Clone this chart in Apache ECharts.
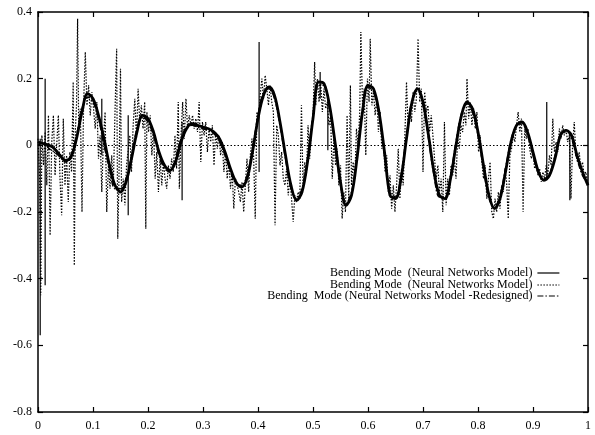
<!DOCTYPE html>
<html>
<head>
<meta charset="utf-8">
<script src="https://cdn.jsdelivr.net/npm/echarts@6/dist/echarts.min.js"></script>
<style>
html, body { margin: 0; padding: 0; background: #fff; }
#chart { width: 595px; height: 435px; }
</style>
</head>
<body>
<div id="chart"></div>
<script>
// legend names (the first two are identical in the picture, trailing space keeps them apart)
const NAME_NN = 'Bending Mode  (Neural Networks Model)'
const NAME_NN_DOT = 'Bending Mode  (Neural Networks Model) '
const NAME_REDESIGN = 'Bending  Mode (Neural Networks Model -Redesigned)'

// x grid for the two smooth curves: 0, 0.01, ... 1
const xGrid = Array.from({ length: 101 }, (_, i) => i / 100)

// solid curve, read every 0.01
const solidVals = [
  0.01, 0.005, 0.0, -0.01, -0.03, -0.045, -0.035, 0.02, 0.10, 0.155,
  0.14, 0.09, 0.02, -0.06, -0.12, -0.14, -0.11, -0.04, 0.04, 0.09,
  0.08, 0.04, -0.02, -0.06, -0.075, -0.05, 0.01, 0.05, 0.065, 0.06,
  0.055, 0.05, 0.04, 0.02, -0.02, -0.07, -0.11, -0.125, -0.10, -0.02,
  0.08, 0.15, 0.175, 0.15, 0.07, -0.03, -0.12, -0.165, -0.14, -0.05,
  0.08, 0.19, 0.185, 0.12, 0.01, -0.11, -0.18, -0.15, -0.04, 0.10,
  0.18, 0.17, 0.10, -0.02, -0.15, -0.16, -0.10, 0.02, 0.13, 0.17,
  0.13, 0.03, -0.08, -0.15, -0.16, -0.10, 0.00, 0.09, 0.13, 0.11,
  0.04, -0.06, -0.15, -0.19, -0.16, -0.08, 0.01, 0.06, 0.07, 0.04,
  -0.02, -0.08, -0.105, -0.09, -0.04, 0.03, 0.045, 0.03, -0.03, -0.08,
  -0.12
]

// dash-dot curve (redesigned model), read every 0.01
const dashVals = [
  0.0, 0.01, -0.01, -0.02, -0.035, -0.05, -0.03, 0.03, 0.11, 0.145,
  0.13, 0.08, 0.0, -0.07, -0.13, -0.13, -0.10, -0.03, 0.05, 0.085,
  0.07, 0.03, -0.03, -0.07, -0.08, -0.04, 0.02, 0.055, 0.06, 0.055,
  0.05, 0.045, 0.035, 0.01, -0.03, -0.08, -0.115, -0.12, -0.09, -0.01,
  0.09, 0.16, 0.17, 0.14, 0.06, -0.04, -0.13, -0.16, -0.13, -0.04,
  0.09, 0.18, 0.18, 0.11, 0.0, -0.12, -0.175, -0.14, -0.03, 0.11,
  0.175, 0.16, 0.09, -0.03, -0.14, -0.155, -0.09, 0.03, 0.135, 0.165,
  0.12, 0.02, -0.09, -0.155, -0.155, -0.09, 0.01, 0.095, 0.125, 0.10,
  0.03, -0.07, -0.16, -0.185, -0.15, -0.07, 0.015, 0.06, 0.065, 0.03,
  -0.03, -0.085, -0.10, -0.085, -0.03, 0.035, 0.045, 0.02, -0.04, -0.09,
  -0.115
]

// solid vertical glitches in the first model: x, from, to
const spikeX = [0.004, 0.013, 0.116, 0.164, 0.262, 0.402, 0.513, 0.527, 0.925, 0.967]
const spikeFrom = [0.02, 0.20, 0.14, 0.09, 0.07, 0.31, 0.22, 0.14, 0.13, 0.035]
const spikeTo = [-0.57, -0.42, -0.03, -0.21, -0.165, -0.08, 0.14, -0.015, -0.105, -0.165]

// dotted, noisy trace [x, y]
const dottedPts = [
  [0.000, 0.02], [0.003, -0.10], [0.005, -0.45], [0.007, 0.03], [0.010, -0.06], [0.013, 0.04],
  [0.016, -0.12], [0.019, 0.09], [0.022, -0.27], [0.025, 0.01], [0.028, 0.09], [0.031, -0.09],
  [0.034, 0.00], [0.037, 0.09], [0.040, -0.10], [0.043, -0.21], [0.046, 0.08], [0.049, -0.12],
  [0.052, -0.03], [0.055, -0.17], [0.058, -0.02], [0.061, -0.08], [0.064, 0.19], [0.066, -0.36],
  [0.068, 0.05], [0.070, 0.12], [0.072, 0.38], [0.074, 0.06], [0.077, 0.11], [0.080, -0.20],
  [0.083, 0.13], [0.086, 0.28], [0.089, 0.12], [0.092, 0.18], [0.095, 0.09], [0.098, 0.16],
  [0.101, 0.11], [0.104, 0.05], [0.107, 0.13], [0.110, -0.04], [0.113, 0.03], [0.116, -0.14],
  [0.119, 0.02], [0.122, 0.10], [0.125, -0.20], [0.128, -0.06], [0.131, -0.13], [0.134, -0.03],
  [0.137, -0.12], [0.140, 0.10], [0.143, 0.29], [0.145, -0.28], [0.147, -0.12], [0.150, 0.23],
  [0.152, -0.17], [0.155, -0.10], [0.158, -0.18], [0.161, -0.06], [0.167, 0.03], [0.170, -0.08],
  [0.173, 0.06], [0.176, 0.14], [0.179, 0.02], [0.182, 0.17], [0.185, 0.07], [0.188, 0.12],
  [0.191, 0.05], [0.194, 0.13], [0.196, -0.25], [0.198, 0.10], [0.201, 0.04], [0.204, 0.09],
  [0.207, -0.03], [0.210, 0.05], [0.213, -0.10], [0.216, -0.02], [0.219, -0.14], [0.222, -0.04],
  [0.225, -0.12], [0.228, -0.05], [0.231, -0.10], [0.234, -0.13], [0.237, -0.06], [0.240, -0.10],
  [0.243, -0.04], [0.246, -0.08], [0.249, 0.03], [0.252, -0.07], [0.255, 0.13], [0.257, -0.13],
  [0.260, 0.03], [0.263, 0.13], [0.266, 0.02], [0.269, 0.14], [0.272, 0.05], [0.275, 0.09],
  [0.278, 0.06], [0.281, 0.09], [0.284, 0.05], [0.287, 0.08], [0.290, 0.04], [0.293, 0.13],
  [0.296, -0.05], [0.299, 0.07], [0.302, 0.03], [0.305, 0.07], [0.308, -0.02], [0.311, 0.05],
  [0.314, 0.01], [0.317, 0.06], [0.320, -0.06], [0.323, 0.04], [0.326, -0.01], [0.329, 0.03],
  [0.332, -0.03], [0.335, 0.01], [0.338, -0.08], [0.341, -0.02], [0.344, -0.10], [0.347, -0.05],
  [0.350, -0.13], [0.353, -0.08], [0.356, -0.19], [0.359, -0.10], [0.362, -0.12], [0.365, -0.14],
  [0.368, -0.17], [0.371, -0.11], [0.374, -0.20], [0.377, -0.12], [0.380, -0.04], [0.383, -0.14],
  [0.386, -0.03], [0.389, 0.02], [0.392, -0.03], [0.395, -0.22], [0.398, 0.10], [0.401, 0.08],
  [0.404, 0.15], [0.407, 0.20], [0.410, 0.14], [0.413, 0.21], [0.416, 0.17], [0.419, 0.12],
  [0.422, 0.18], [0.425, 0.13], [0.428, 0.10], [0.431, -0.24], [0.434, 0.06], [0.437, 0.03],
  [0.440, -0.06], [0.443, -0.02], [0.446, -0.10], [0.449, -0.12], [0.452, -0.07], [0.455, -0.15],
  [0.458, -0.10], [0.461, -0.16], [0.464, -0.23], [0.467, -0.15], [0.470, -0.17], [0.473, -0.14],
  [0.476, -0.16], [0.479, 0.12], [0.482, -0.13], [0.485, -0.05], [0.488, -0.09], [0.491, 0.06],
  [0.494, -0.04], [0.497, 0.04], [0.500, 0.09], [0.503, 0.25], [0.505, 0.12], [0.508, 0.20],
  [0.511, 0.13], [0.514, 0.19], [0.517, 0.10], [0.520, 0.17], [0.523, 0.11], [0.526, 0.13],
  [0.529, 0.06], [0.532, 0.09], [0.535, -0.10], [0.538, 0.02], [0.541, -0.06], [0.544, -0.01],
  [0.547, -0.12], [0.550, -0.06], [0.553, -0.22], [0.556, -0.14], [0.559, -0.20], [0.562, 0.09],
  [0.565, -0.17], [0.568, 0.18], [0.570, -0.12], [0.573, -0.05], [0.576, -0.10], [0.579, 0.05],
  [0.582, 0.00], [0.585, 0.10], [0.587, 0.34], [0.590, 0.12], [0.593, 0.17], [0.596, -0.03],
  [0.599, 0.20], [0.602, 0.13], [0.604, 0.32], [0.607, 0.12], [0.610, 0.16], [0.613, 0.09],
  [0.616, 0.14], [0.619, 0.04], [0.622, 0.10], [0.625, -0.01], [0.628, 0.02], [0.631, -0.08],
  [0.634, -0.03], [0.637, -0.14], [0.640, -0.09], [0.643, -0.19], [0.646, -0.12], [0.649, -0.20],
  [0.652, -0.12], [0.655, -0.01], [0.658, -0.16], [0.661, -0.07], [0.664, -0.12], [0.667, 0.03],
  [0.670, 0.19], [0.673, 0.05], [0.676, 0.11], [0.679, 0.07], [0.682, 0.16], [0.685, 0.10],
  [0.688, 0.14], [0.691, 0.32], [0.694, 0.13], [0.697, 0.17], [0.700, -0.08], [0.703, 0.16],
  [0.706, 0.10], [0.709, 0.12], [0.712, 0.04], [0.715, 0.09], [0.718, 0.03], [0.721, -0.04],
  [0.724, -0.10], [0.727, -0.06], [0.730, -0.14], [0.733, -0.10], [0.736, -0.20], [0.739, 0.07],
  [0.742, -0.18], [0.745, -0.10], [0.748, -0.15], [0.751, -0.06], [0.754, -0.09], [0.757, -0.04],
  [0.760, -0.10], [0.763, 0.02], [0.766, -0.01], [0.769, 0.06], [0.772, 0.04], [0.775, 0.10],
  [0.778, 0.06], [0.780, 0.20], [0.783, 0.08], [0.786, 0.13], [0.789, 0.06], [0.792, 0.11],
  [0.795, 0.05], [0.798, 0.10], [0.801, -0.02], [0.804, 0.03], [0.807, -0.05], [0.810, -0.10],
  [0.813, -0.06], [0.816, -0.16], [0.819, -0.10], [0.822, -0.05], [0.825, -0.20], [0.828, -0.22],
  [0.831, -0.16], [0.834, -0.20], [0.837, -0.14], [0.840, -0.19], [0.843, -0.12], [0.846, -0.14],
  [0.849, -0.07], [0.852, -0.11], [0.855, -0.22], [0.858, -0.03], [0.861, -0.01], [0.864, 0.03],
  [0.867, 0.01], [0.870, 0.06], [0.873, 0.10], [0.876, 0.04], [0.879, 0.08], [0.882, -0.20],
  [0.885, 0.05], [0.888, 0.02], [0.891, 0.05], [0.894, -0.01], [0.897, -0.04], [0.900, -0.02],
  [0.903, -0.07], [0.906, -0.05], [0.909, -0.09], [0.912, -0.07], [0.915, -0.11], [0.918, -0.08],
  [0.921, -0.10], [0.924, -0.06], [0.927, -0.09], [0.930, -0.03], [0.933, -0.06], [0.936, 0.08],
  [0.939, -0.02], [0.942, 0.01], [0.945, -0.02], [0.948, 0.05], [0.951, 0.02], [0.954, 0.06],
  [0.957, 0.03], [0.960, 0.05], [0.963, 0.01], [0.966, 0.03], [0.969, -0.16], [0.972, 0.00],
  [0.975, 0.07], [0.978, -0.03], [0.981, -0.05], [0.984, -0.02], [0.987, -0.07], [0.990, -0.05],
  [0.993, -0.09], [0.996, -0.08], [1.000, -0.12]
]

const FONT = 'Liberation Serif'
const fmt = v => String(Math.round(v * 10) / 10)

// 每个坐标轴都是同一套黑色样式
const lineBlack = { color: '#000', width: 1.5 }
const baseX = {
  type: 'value', min: 0, max: 1, interval: 0.1,
  axisLine: { show: true, onZero: false, lineStyle: lineBlack },
  axisTick: { inside: true, length: 5, lineStyle: { color: '#000', width: 1.2 } },
  splitLine: { show: false }
}
const baseY = {
  type: 'value', min: -0.8, max: 0.4, interval: 0.2,
  axisLine: { show: true, onZero: false, lineStyle: lineBlack },
  axisTick: { inside: true, length: 5, lineStyle: { color: '#000', width: 1.2 } },
  splitLine: { show: false }
}

// 竖直毛刺：每根一段，中间用 null 断开
const spikeData = []
spikeX.forEach((x, i) => {
  spikeData.push([x, spikeFrom[i]], [x, spikeTo[i]], [x, null])
})

const legendFor = (name, top) => ({
  data: [name],
  right: 30,
  top: top,
  orient: 'vertical',
  align: 'right',
  itemWidth: 22,
  itemHeight: 8,
  selectedMode: false,
  formatter: n => n.trim(),
  itemStyle: { color: 'transparent', borderColor: 'transparent', borderWidth: 0 },
  lineStyle: { width: 1.2 },
  textStyle: { fontFamily: FONT, fontSize: 12, color: '#000' }
})

const chart = echarts.init(document.getElementById('chart'), null, { renderer: 'canvas' })

chart.setOption({
  animation: false,
  backgroundColor: '#fff',
  grid: { left: 38, right: 7, top: 12, bottom: 23 },
  xAxis: [
    {
      ...baseX, position: 'bottom',
      axisLabel: { formatter: fmt, fontFamily: FONT, fontSize: 12, color: '#000', margin: 8 }
    },
    { ...baseX, position: 'top', axisLabel: { show: false } }
  ],
  yAxis: [
    {
      ...baseY, position: 'left',
      axisLabel: { formatter: fmt, fontFamily: FONT, fontSize: 12, color: '#000', margin: 6 }
    },
    { ...baseY, position: 'right', axisLabel: { show: false } }
  ],
  legend: [
    legendFor(NAME_NN, 262),
    legendFor(NAME_NN_DOT, 274),
    legendFor(NAME_REDESIGN, 285)
  ],
  series: [
    {
      name: NAME_REDESIGN,
      type: 'line',
      data: xGrid.map((x, i) => [x, dashVals[i]]),
      smooth: 0.35,
      symbol: 'none',
      itemStyle: { color: '#000' },
      lineStyle: { color: '#000', width: 1.5, type: [6, 2, 1.5, 2] },
      markLine: {
        silent: true,
        symbol: 'none',
        label: { show: false },
        lineStyle: { color: '#000', width: 1, type: [1.5, 2] },
        data: [{ yAxis: 0 }]
      }
    },
    {
      name: NAME_NN_DOT,
      type: 'line',
      data: dottedPts,
      symbol: 'none',
      itemStyle: { color: '#000' },
      lineStyle: { color: '#000', width: 1.2, type: [1.5, 1.5] }
    },
    {
      name: NAME_NN,
      type: 'line',
      data: xGrid.map((x, i) => [x, solidVals[i]]),
      smooth: 0.35,
      symbol: 'none',
      itemStyle: { color: '#000' },
      lineStyle: { color: '#000', width: 2.8 }
    },
    {
      name: 'glitch',
      type: 'line',
      data: spikeData,
      connectNulls: false,
      symbol: 'none',
      itemStyle: { color: '#000' },
      lineStyle: { color: '#000', width: 1.2 }
    }
  ]
})

window.addEventListener('resize', () => chart.resize())
</script>
</body>
</html>
